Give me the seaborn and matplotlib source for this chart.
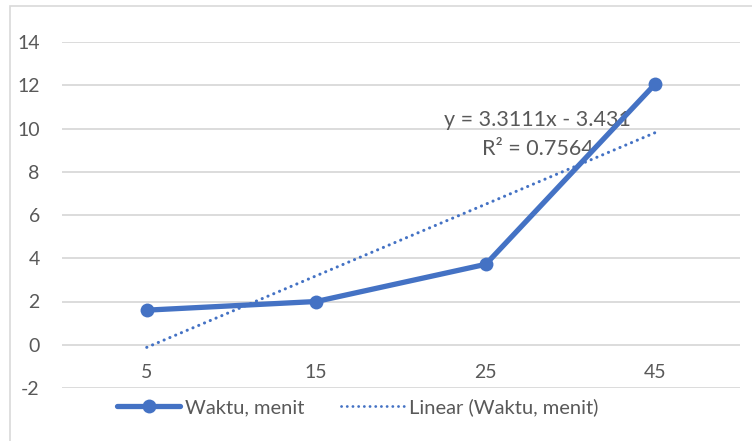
import matplotlib
matplotlib.use("Agg")
import matplotlib.pyplot as plt
from matplotlib.lines import Line2D
from matplotlib.patches import Rectangle
import numpy as np
import pandas as pd
import seaborn as sns

categories = ["5", "15", "25", "45"]
waktu = [1.6, 2.0, 3.72, 12.06]
yticks = [-2, 0, 2, 4, 6, 8, 10, 12, 14]
eq_text = "y = 3.3111x - 3.431"
r2_text = "R² = 0.7564"
series_name = "Waktu, menit"
trend_name = "Linear (Waktu, menit)"

BLUE = "#4472C4"
TXT = "#595959"
GRID = "#D9D9D9"

sns.set_theme(style="white")
plt.rcParams["font.family"] = ["Lato", "DejaVu Sans"]

df = pd.DataFrame({"pos": np.arange(len(categories)), "cat": categories, "val": waktu})

fig = plt.figure(figsize=(7.52, 4.41), dpi=100)
fig.patch.set_facecolor("white")
fig.patches.append(Rectangle((10 / 752, -0.05), 760 / 752, 1 - 6 / 441 + 0.05,
                             transform=fig.transFigure, fill=False,
                             edgecolor="#D9D9D9", linewidth=1.2))
ax = fig.add_axes([62 / 752, 1 - 388 / 441, (740 - 62) / 752, (388 - 42) / 441])

# trendline (linear fit on x = 1..n, as Excel does)
xi = np.arange(1, len(waktu) + 1)
coef = np.polyfit(xi, waktu, 1)
trend = np.polyval(coef, xi)
ax.plot(df["pos"], trend, color=BLUE, linewidth=2.2, linestyle=(0, (0.05, 2.0)),
        dash_capstyle="round", zorder=3)

sns.lineplot(data=df, x="pos", y="val", ax=ax, color=BLUE, linewidth=3.8,
             marker="o", markersize=10, markeredgewidth=0, zorder=4,
             solid_capstyle="round")

ax.set_xlim(-0.5, len(categories) - 0.5)
ax.set_ylim(-2, 14)
ax.set_yticks(yticks)
ax.set_yticklabels([str(t) for t in yticks])
ax.set_xticks(df["pos"])
ax.set_xticklabels(categories)
ax.yaxis.grid(True, color=GRID, linewidth=1.3)
ax.set_axisbelow(True)
for s in ax.spines.values():
    s.set_visible(False)
ax.spines["bottom"].set_position(("data", 0))
ax.tick_params(axis="x", length=0, pad=14, labelsize=14, labelcolor=TXT)
ax.tick_params(axis="y", length=0, pad=16, labelsize=14, labelcolor=TXT)
ax.set_xlabel("")
ax.set_ylabel("")

ax.text(2.305, 10.37, eq_text, ha="center", va="center", fontsize=15.5, color=TXT, zorder=2)
ax.text(2.31, 9.07, r2_text, ha="center", va="center", fontsize=15.5, color=TXT, zorder=2)

handles = [
    Line2D([], [], color=BLUE, linewidth=3.8, marker="o", markersize=10, markeredgewidth=0),
    Line2D([], [], color=BLUE, linewidth=2.0, linestyle=(0, (0.05, 2.0)), dash_capstyle="round"),
]
fig.legend(handles, [series_name, trend_name], loc="center", bbox_to_anchor=(0.476, 1 - 407 / 441),
           ncol=2, frameon=False, fontsize=14.5, labelcolor=TXT, handlelength=3.13,
           columnspacing=1.8, handletextpad=0.25)

fig.savefig("out.png", dpi=100, facecolor="white")
